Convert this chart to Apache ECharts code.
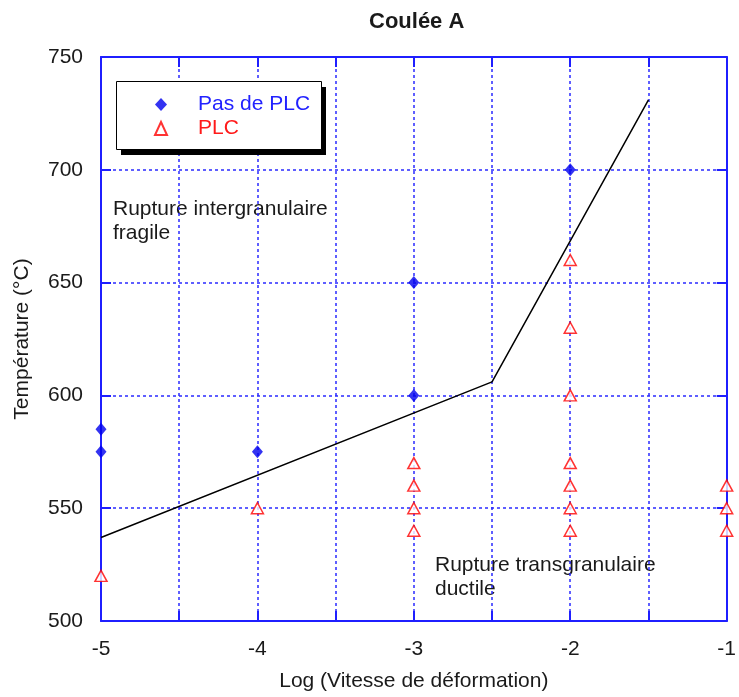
<!DOCTYPE html>
<html>
<head>
<meta charset="utf-8">
<script src="https://cdn.jsdelivr.net/npm/echarts@6/dist/echarts.min.js"></script>
<style>html,body{margin:0;padding:0;background:#fff;overflow:hidden}#c{width:739px;height:697px}</style>
</head>
<body>
<div id="c"></div>
<script>
const titleText = 'Coulée A';
const xName = 'Log (Vitesse de déformation)';
const yName = 'Température (°C)';
const seriesNames = ['Pas de PLC', 'PLC'];
const pasDePLC = [[-5, 585], [-5, 575], [-4, 575], [-3, 650], [-3, 600], [-2, 700]];
const plc = [[-5, 520], [-4, 550], [-3, 570], [-3, 560], [-3, 550], [-3, 540],
  [-2, 660], [-2, 630], [-2, 600], [-2, 570], [-2, 560], [-2, 550], [-2, 540],
  [-1, 560], [-1, 550], [-1, 540]];
const boundary = [[-5, 537], [-2.5, 606], [-1.5, 731]];
const xMin = -5, xMax = -1, xStep = 0.5;
const yMin = 500, yMax = 750, yStep = 50;
const annotTop = 'Rupture intergranulaire\nfragile';
const annotBottom = 'Rupture transgranulaire\nductile';

const FONT = '"Liberation Sans", Arial, sans-serif';
const AX = '#1f1fff';
const TXT = '#1a1a1a';
const chart = echarts.init(document.getElementById('c'), null, {renderer: 'canvas'});

const grid = {left: 101, top: 57, right: 10, bottom: 70};
const baseAxisLine = {show: true, onZero: false, lineStyle: {color: AX, width: 2}};
const baseTick = {show: true, inside: true, length: 10, lineStyle: {color: AX, width: 2}};

chart.setOption({
  animation: false,
  backgroundColor: '#fff',
  title: {
    text: titleText, left: 364, top: 6,
    textStyle: {fontFamily: FONT, fontSize: 22, fontWeight: 'bold', color: TXT}
  },
  grid: grid,
  legend: {
    orient: 'vertical', left: 116, top: 81, z: 10,
    padding: [13, 10, 10, 38],
    itemWidth: 12, itemHeight: 13, itemGap: 3,
    textStyle: {fontFamily: FONT, fontSize: 21, padding: [0, 0, 0, 26]},
    data: [
      {name: seriesNames[0], textStyle: {color: '#2222ff'}},
      {name: seriesNames[1], textStyle: {color: '#ff1a1a'}}
    ]
  },
  xAxis: [{
    type: 'value', min: xMin, max: xMax, interval: xStep,
    name: xName, nameLocation: 'middle', nameGap: 50,
    nameTextStyle: {fontFamily: FONT, fontSize: 21, color: TXT},
    axisLine: baseAxisLine, axisTick: baseTick,
    axisLabel: {
      margin: 18, fontFamily: FONT, fontSize: 21, color: TXT,
      formatter: v => (Math.abs(v - Math.round(v)) < 1e-9 ? String(Math.round(v)) : '')
    },
    splitLine: {show: true, lineStyle: {color: '#2a2aff', width: 1.5, type: [3, 3]}}
  }, {
    type: 'value', position: 'top', min: xMin, max: xMax, interval: xStep,
    axisLine: baseAxisLine, axisTick: baseTick, axisLabel: {show: false}, splitLine: {show: false}
  }],
  yAxis: [{
    type: 'value', min: yMin, max: yMax, interval: yStep,
    name: yName, nameLocation: 'middle', nameGap: 68, nameRotate: 90,
    nameTextStyle: {fontFamily: FONT, fontSize: 21, color: TXT},
    axisLine: baseAxisLine, axisTick: baseTick,
    axisLabel: {margin: 18, fontFamily: FONT, fontSize: 21, color: TXT},
    splitLine: {show: true, lineStyle: {color: '#2a2aff', width: 1.5, type: [3, 3]}}
  }, {
    type: 'value', position: 'right', min: yMin, max: yMax, interval: yStep,
    axisLine: baseAxisLine, axisTick: baseTick, axisLabel: {show: false}, splitLine: {show: false}
  }],
  series: [{
    name: 'boundary', type: 'line', data: boundary, symbol: 'none',
    lineStyle: {color: '#000', width: 1.5}, z: 3, silent: true
  }, {
    name: seriesNames[0], type: 'scatter', data: pasDePLC,
    symbol: 'diamond', symbolSize: [11, 13],
    itemStyle: {color: '#0000ee'}, z: 4
  }, {
    name: seriesNames[1], type: 'scatter', data: plc,
    symbol: 'triangle', symbolSize: [12, 11],
    itemStyle: {color: '#fff', borderColor: '#ff0000', borderWidth: 1.5}, z: 4
  }],
  graphic: [{
    type: 'rect', z: 5, shape: {x: 121, y: 87, width: 205, height: 68},
    style: {fill: '#000'}
  }, {
    type: 'rect', z: 6, shape: {x: 116.5, y: 81.5, width: 205, height: 68},
    style: {fill: '#fff', stroke: '#000', lineWidth: 1}
  }, {
    type: 'text', left: 113, top: 197,
    style: {text: annotTop, font: '21px ' + FONT, fill: TXT, lineHeight: 24}
  }, {
    type: 'text', left: 435, top: 553,
    style: {text: annotBottom, font: '21px ' + FONT, fill: TXT, lineHeight: 24}
  }]
});
</script>
</body>
</html>
